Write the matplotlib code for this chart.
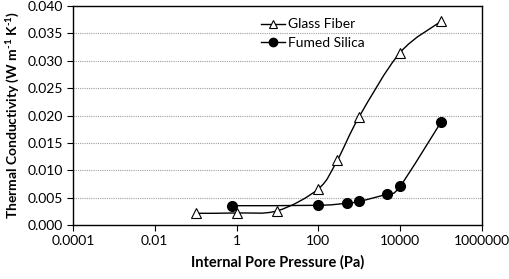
import matplotlib.pyplot as plt
import numpy as np
from matplotlib.path import Path
from matplotlib.patches import PathPatch
from matplotlib.lines import Line2D
from matplotlib.ticker import FixedLocator, FixedFormatter

plt.rcParams['font.family'] = ['Lato', 'DejaVu Sans']
plt.rcParams['mathtext.fontset'] = 'custom'
plt.rcParams['mathtext.rm'] = 'Lato:bold'
plt.rcParams['mathtext.default'] = 'rm'

# Data
glass_p = [0.1, 1, 10, 100, 290, 1000, 10000, 100000]
glass_k = [0.00214, 0.0022, 0.0026, 0.0066, 0.0118, 0.0198, 0.0315, 0.0372]
silica_p = [0.76, 100, 510, 1000, 4800, 10000, 100000]
silica_k = [0.00353, 0.0036, 0.0040, 0.0043, 0.0057, 0.0071, 0.0188]

xticks = [1e-4, 1e-2, 1, 1e2, 1e4, 1e6]
xticklabels = ['0.0001', '0.01', '1', '100', '10000', '1000000']
yticks = np.arange(0, 0.0401, 0.005)


def smooth_path(px, py):
    # Excel-style smoothed line: cubic Bezier segments (Catmull-Rom tangents) in log-x space
    lx = np.log10(px)
    py = np.asarray(py, dtype=float)
    n = len(lx)
    verts = [(px[0], py[0])]
    codes = [Path.MOVETO]
    for i in range(n - 1):
        i0 = max(i - 1, 0)
        i3 = min(i + 2, n - 1)
        c1x = lx[i] + (lx[i + 1] - lx[i0]) / 6
        c1y = py[i] + (py[i + 1] - py[i0]) / 6
        c2x = lx[i + 1] - (lx[i3] - lx[i]) / 6
        c2y = py[i + 1] - (py[i3] - py[i]) / 6
        verts += [(10 ** c1x, c1y), (10 ** c2x, c2y), (px[i + 1], py[i + 1])]
        codes += [Path.CURVE4] * 3
    return Path(verts, codes)


fig = plt.figure(figsize=(5.1, 2.79), dpi=100)
ax = fig.add_axes([0.143, 0.1935, 0.802, 0.785])
ax.set_xscale('log')
ax.set_xlim(1e-4, 1e6)
ax.set_ylim(0, 0.04)

for px, py, z in [(silica_p, silica_k, 2), (glass_p, glass_k, 3)]:
    ax.add_patch(PathPatch(smooth_path(px, py), facecolor='none', edgecolor='black',
                           linewidth=1.0, zorder=z))

ax.plot(silica_p, silica_k, linestyle='none', marker='o', markersize=7,
        color='black', zorder=4)
ax.plot(glass_p, glass_k, linestyle='none', marker='^', markersize=7,
        markerfacecolor='white', markeredgecolor='black', markeredgewidth=0.8, zorder=5)

ax.xaxis.set_major_locator(FixedLocator(xticks))
ax.xaxis.set_major_formatter(FixedFormatter(xticklabels))
ax.xaxis.set_minor_locator(FixedLocator([]))
ax.set_yticks(yticks)
ax.set_yticklabels(['%.3f' % v for v in yticks])
ax.tick_params(axis='both', direction='out', length=4, width=0.8, labelsize=10, pad=3)

ax.yaxis.grid(True, linestyle=(0, (1, 1)), color='#a0a0a0', linewidth=0.8)
ax.set_axisbelow(True)
for s in ax.spines.values():
    s.set_linewidth(1.0)
    s.set_color('black')

ax.set_xlabel('Internal Pore Pressure (Pa)', fontsize=10.5, fontweight='bold', labelpad=6)
ax.set_ylabel('Thermal Conductivity (W m$^{\\text{-}1}$ K$^{\\text{-}1}$)', fontsize=10,
              fontweight='bold', labelpad=4)

handles = [
    Line2D([], [], color='black', linewidth=1.0, marker='^', markersize=6,
           markerfacecolor='white', markeredgewidth=0.8),
    Line2D([], [], color='black', linewidth=1.0, marker='o', markersize=6),
]
ax.legend(handles, ['Glass Fiber', 'Fumed Silica'], loc='upper left',
          bbox_to_anchor=(0.43, 1.0), frameon=False, fontsize=10,
          handlelength=1.7, handletextpad=0.2, labelspacing=0.45)

fig.savefig('out.png', dpi=100)
